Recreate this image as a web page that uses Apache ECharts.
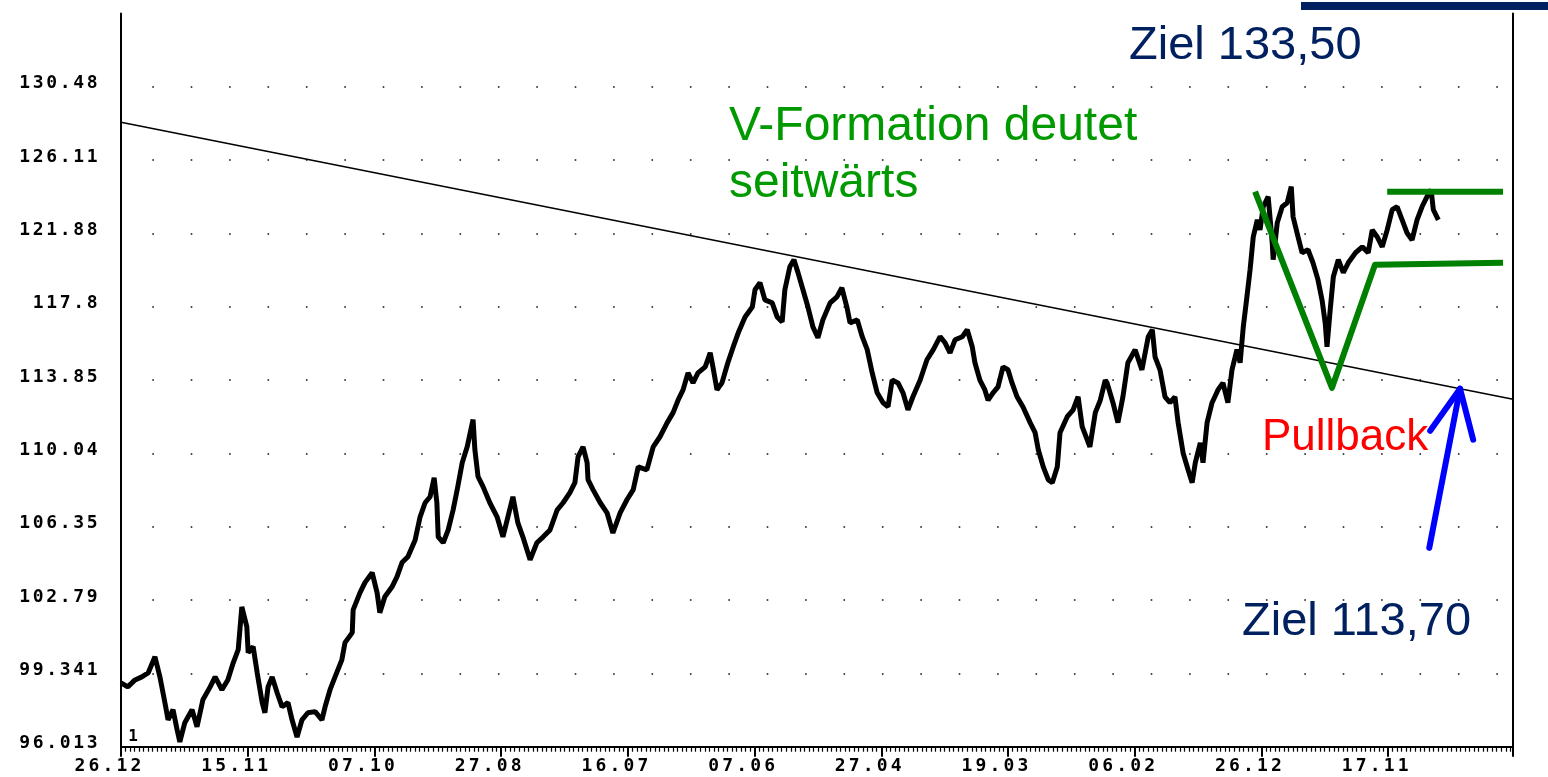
<!DOCTYPE html>
<html>
<head>
<meta charset="utf-8">
<script src="https://cdn.jsdelivr.net/npm/echarts/dist/echarts.min.js"></script>
<style>
html, body { margin: 0; padding: 0; background: #fff; }
#chart { width: 1548px; height: 777px; }
</style>
</head>
<body>
<div id="chart"></div>
<script>
// tick labels
var xLabels = ['26.12', '15.11', '07.10', '27.08', '16.07', '07.06', '27.04', '19.03', '06.02', '26.12', '17.11'];
var yLabels = ['96.013', '99.341', '102.79', '106.35', '110.04', '113.85', '117.8', '121.88', '126.11', '130.48'];
var daysPerLabel = 28;
var xMax = 307.6;

// kurs (trading day, price)
var priceDays = [
  0, 1.5, 3.1, 4.6, 6.0, 7.5, 8.6, 9.7, 10.4, 11.5, 12.4, 13.0, 14.1, 15.7, 16.8, 18.1, 19.7, 20.8, 22.3, 23.6,
  24.8, 25.9, 26.7, 27.8, 28.1, 29.2, 30.1, 31.2, 31.8, 32.5, 33.4, 34.5, 35.6, 36.9, 37.8, 38.9, 40.0, 41.3, 42.9, 44.4,
  45.1, 46.2, 47.3, 48.8, 49.5, 51.1, 51.3, 52.8, 53.9, 55.5, 56.6, 57.2, 58.3, 59.9, 61.0, 62.1, 63.4, 65.0, 66.1, 67.2,
  68.3, 69.2, 69.8, 70.1, 71.2, 72.3, 73.4,
  74.3, 75.4, 76.5, 77.8, 78.2, 78.9, 80.0, 81.5, 83.1, 84.4, 85.5, 86.6, 87.7, 88.8, 90.4, 91.9, 93.3, 94.8, 96.4, 97.7,
  99.2, 100.3, 101.0, 102.1, 103.0, 103.2, 104.3, 105.9, 107.4, 108.7, 110.3, 111.8, 113.2, 114.3, 116.2, 117.6, 119.1, 120.7, 122.0, 123.1,
  124.2, 125.3, 126.4, 127.5, 129.1, 130.2, 130.8, 131.7, 132.8, 134.1, 135.3, 136.4, 137.9, 139.5, 140.1, 141.2, 142.3, 143.9, 145.0,
  146.1, 146.7, 147.8, 148.7, 149.6, 150.7, 151.8, 152.9, 154.0, 155.1, 156.7, 158.2, 159.3, 160.4, 161.1, 162.7, 163.8, 164.9, 166.0, 167.1,
  168.4, 169.5, 170.4, 171.7, 172.8, 173.9, 175.0, 176.6, 178.1, 179.5, 181.0, 182.1, 183.2, 184.3, 185.9, 187.0, 188.1, 188.7, 189.8, 190.9,
  191.6, 192.7, 193.8, 194.9, 196.0, 196.9, 198.0, 199.3, 200.9, 202.0, 202.7, 203.8, 204.9,
  205.8, 206.9, 207.5, 209.1, 210.4, 211.5, 212.4, 213.5, 214.1, 215.3, 216.4, 217.5,
  217.9, 219.2, 220.3, 221.4, 222.5, 224.1, 225.6, 227.0, 227.9, 228.5, 229.6, 230.7, 231.8, 232.9, 233.6, 234.7, 235.8, 236.7, 237.4, 238.5,
  239.1, 240.0, 241.1, 242.4, 243.5, 244.6, 245.5, 246.6, 247.3, 248.0, 248.8, 249.5, 250.2, 251.1, 251.7, 252.4, 253.5, 254.4, 254.6, 255.5,
  256.6, 257.7, 258.6, 259.0, 260.1, 261.0, 262.3, 263.4, 264.5, 265.4, 266.1, 266.5, 267.2, 267.9, 269.0, 270.1, 271.2, 272.8, 274.3, 275.6,
  276.5, 277.6, 278.7, 279.8, 280.9, 282.0, 283.1, 284.2, 285.3, 286.4, 287.5, 288.6, 289.5, 290.0, 291.1
];
var priceValues = [
  98.90, 98.72, 99.04, 99.18, 99.36, 100.11, 99.18, 98.00, 97.22, 97.68, 96.77, 96.23, 97.09, 97.68, 96.91, 98.13, 98.72, 99.18, 98.59, 99.04,
  99.83, 100.44, 102.46, 101.52, 100.30, 100.58, 99.36, 98.00, 97.54, 98.72, 99.18, 98.45, 97.81, 98.00, 97.22, 96.45, 97.22, 97.54, 97.59, 97.22,
  97.81, 98.59, 99.18, 99.97, 100.77, 101.24, 102.32, 103.13, 103.62, 104.10, 103.13, 102.18, 102.94, 103.42, 103.91, 104.59, 104.88, 105.70, 106.84, 107.54,
  107.84, 108.80, 107.54, 105.85, 105.56, 106.19, 107.19,
  108.20, 109.56, 110.37, 111.78, 110.22, 108.85, 108.35, 107.54, 106.84, 105.85, 106.84, 107.84, 106.54, 105.85, 104.73, 105.56, 105.85, 106.19, 107.19, 107.54,
  108.05, 108.55, 109.86, 110.37, 109.56, 108.70, 108.20, 107.54, 107.04, 106.04, 107.04, 107.69, 108.20, 109.35, 109.20, 110.37, 110.89, 111.62, 112.14, 112.79,
  113.33, 114.23, 113.70, 114.23, 114.55, 115.30, 114.55, 113.33, 113.70, 114.77, 115.63, 116.38, 117.24, 117.78, 118.73, 119.12, 118.17, 118.01, 117.24,
  116.97, 118.73, 120.01, 120.40, 119.68, 118.73, 117.78, 116.70, 116.11, 117.08, 118.01, 118.34, 118.84, 117.78, 116.92, 117.08, 116.17, 115.47, 114.23, 113.18,
  112.66, 112.45, 113.85, 113.70, 113.18, 112.29, 112.97, 113.85, 114.93, 115.47, 116.17, 115.84, 115.30, 116.00, 116.17, 116.54, 115.63, 114.77, 113.85, 113.33,
  112.79, 113.18, 113.49, 114.55, 114.40, 113.70, 112.97, 112.45, 111.62, 111.10, 110.22, 109.35, 108.70,
  108.55, 109.35, 111.10, 111.93, 112.29, 112.97, 111.41, 110.74, 110.37, 112.14, 112.79, 113.85,
  113.70, 112.66, 111.62, 112.97, 114.77, 115.47, 114.39, 116.17, 116.54, 115.09, 114.39, 112.97, 112.66, 112.97, 111.62, 110.06, 109.20, 108.55, 109.56, 110.58,
  109.56, 111.62, 112.66, 113.33, 113.70, 112.66, 114.39, 115.47, 114.77, 116.70, 118.34, 119.84, 121.68, 122.65, 122.08, 123.40, 123.98, 121.34, 120.40, 122.48,
  123.40, 123.63, 124.56, 122.83, 121.68, 120.79, 120.96, 120.23, 119.29, 118.17, 116.92, 115.63, 117.62, 119.45, 120.40, 119.68, 120.23, 120.79, 121.12, 120.79,
  122.08, 121.68, 121.12, 122.08, 123.23, 123.40, 122.65, 121.90, 121.51, 122.65, 123.40, 123.98, 124.38, 123.23, 122.65
];

// trendlinie
var trendDays = [0, 307.6];
var trendValues = [128.35, 112.84];

// V-Formation (gruen)
var vDays = [250.6, 267.6, 277.1, 305.4];
var vValues = [124.27, 113.44, 120.12, 120.23];
var topDays = [279.8, 305.4];
var topValues = [124.27, 124.27];

// Pfeil (blau)
var arrowDays = [289.1, 295.9];
var arrowValues = [105.31, 113.39];
var headDays = [289.3, 295.9, 298.8];
var headValues = [111.20, 113.39, 110.74];

// log scale: the y labels are evenly spaced by ratio
var yBase = parseFloat(yLabels[0]);
var yRatio = Math.pow(parseFloat(yLabels[yLabels.length - 1]) / yBase, 1 / (yLabels.length - 1));
function toLevel(p) { return Math.log(p / yBase) / Math.log(yRatio); }

function pairs(xs, ys) {
  var out = [];
  for (var i = 0; i < Math.min(xs.length, ys.length); i++) out.push([xs[i], toLevel(ys[i])]);
  return out;
}

// wide pixel-font look: every char in its own fixed cell
function spread(s) {
  return s.split('').map(function (c) { return '{c|' + c + '}'; }).join('');
}
function cell(w) {
  return { width: w, align: 'center', fontFamily: 'DejaVu Sans Mono', fontWeight: 'bold', fontSize: 18, color: '#000' };
}

var myChart = echarts.init(document.getElementById('chart'));

var option = {
  animation: false,
  backgroundColor: '#fff',
  grid: { left: 121, right: 35, top: 13.4, bottom: 30.3, containLabel: false },
  xAxis: {
    type: 'value', min: 0, max: xMax, interval: daysPerLabel,
    axisLine: { show: true, onZero: false, lineStyle: { color: '#000', width: 2 } },
    axisTick: { show: true, length: 10, lineStyle: { color: '#000', width: 2 } },
    minorTick: { show: true, splitNumber: daysPerLabel, length: 5, lineStyle: { color: '#000', width: 1.2 } },
    splitLine: { show: false },
    axisLabel: {
      margin: 11,
      padding: [0, 26, 0, 0],
      formatter: function (v) {
        var i = Math.round(v / daysPerLabel);
        if (Math.abs(v - i * daysPerLabel) > 0.01 || !xLabels[i]) return '';
        return spread(xLabels[i]);
      },
      rich: { c: cell(14) }
    }
  },
  yAxis: [{
    type: 'value', min: 0, max: 10, interval: 1, position: 'left',
    axisLine: { show: true, lineStyle: { color: '#000', width: 2 } },
    axisTick: { show: false },
    axisLabel: {
      margin: 22,
      padding: [0, 0, 6, 0],
      formatter: function (v) {
        var i = Math.round(v);
        if (Math.abs(v - i) > 0.01 || !yLabels[i]) return '';
        return spread(yLabels[i]);
      },
      rich: { c: cell(13.5) }
    },
    splitLine: {
      show: true, showMaxLine: false, showMinLine: false,
      lineStyle: { color: '#111', width: 1.6, type: [1.6, 36.8], dashOffset: 7.1 }
    }
  }, {
    type: 'value', min: 0, max: 10, position: 'right',
    axisLine: { show: true, lineStyle: { color: '#000', width: 2 } },
    axisTick: { show: false }, axisLabel: { show: false }, splitLine: { show: false }
  }],
  series: [
    {
      name: 'Kurs', type: 'line', data: pairs(priceDays, priceValues),
      symbol: 'none', z: 2,
      lineStyle: { color: '#000', width: 5, join: 'bevel' }
    },
    {
      name: 'Trend', type: 'line', data: pairs(trendDays, trendValues),
      symbol: 'none', z: 3,
      lineStyle: { color: '#000', width: 1.5 }
    },
    {
      name: 'V', type: 'line', data: pairs(vDays, vValues),
      symbol: 'none', z: 4,
      lineStyle: { color: '#008000', width: 6, join: 'round' }
    },
    {
      name: 'Top', type: 'line', data: pairs(topDays, topValues),
      symbol: 'none', z: 4,
      lineStyle: { color: '#008000', width: 6 }
    },
    {
      name: 'Pfeil', type: 'line', data: pairs(arrowDays, arrowValues),
      symbol: 'none', z: 5,
      lineStyle: { color: '#0000ff', width: 6, cap: 'round' }
    },
    {
      name: 'Pfeilspitze', type: 'line', data: pairs(headDays, headValues),
      symbol: 'none', z: 5,
      lineStyle: { color: '#0000ff', width: 6, cap: 'round', join: 'round' }
    }
  ],
  graphic: [
    { type: 'rect', shape: { x: 1301, y: 2, width: 247, height: 8 }, style: { fill: '#002060' } },
    { type: 'text', x: 1129, y: 45.7, style: { text: 'Ziel 133,50', font: '47px "Liberation Sans"', fill: '#002060', align: 'left', verticalAlign: 'middle', textAlign: 'left', textVerticalAlign: 'middle' } },
    { type: 'text', x: 729, y: 126.4, style: { text: 'V-Formation deutet', font: '48px "Liberation Sans"', fill: '#009900', align: 'left', verticalAlign: 'middle', textAlign: 'left', textVerticalAlign: 'middle' } },
    { type: 'text', x: 729, y: 183.4, style: { text: 'seitwärts', font: '48px "Liberation Sans"', fill: '#009900', align: 'left', verticalAlign: 'middle', textAlign: 'left', textVerticalAlign: 'middle' } },
    { type: 'text', x: 1262, y: 437.8, style: { text: 'Pullback', font: '44px "Liberation Sans"', fill: '#ff0000', align: 'left', verticalAlign: 'middle', textAlign: 'left', textVerticalAlign: 'middle' } },
    { type: 'text', x: 1242, y: 622, style: { text: 'Ziel 113,70', font: '47px "Liberation Sans"', fill: '#002060', align: 'left', verticalAlign: 'middle', textAlign: 'left', textVerticalAlign: 'middle' } },
    { type: 'text', x: 133, y: 737, style: { text: '1', font: 'bold 16px "DejaVu Sans Mono"', fill: '#000', align: 'center', verticalAlign: 'middle', textAlign: 'center', textVerticalAlign: 'middle' } }
  ]
};

myChart.setOption(option);
</script>
</body>
</html>
